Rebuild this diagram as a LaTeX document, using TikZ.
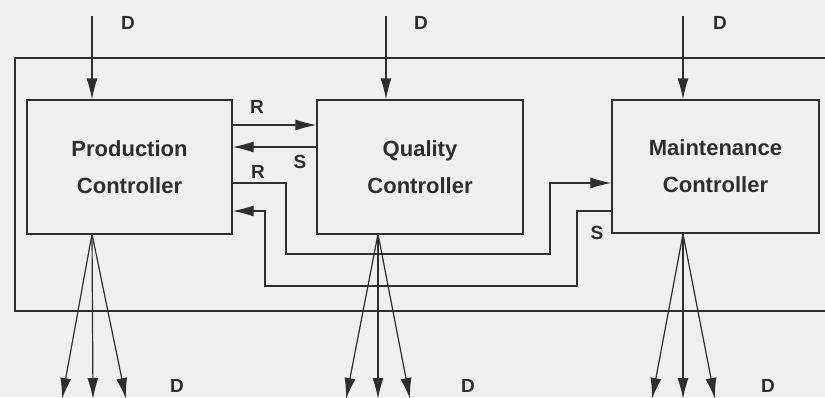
\documentclass[tikz,border=0pt]{standalone}
\usepackage{fontspec}
\setmainfont{Liberation Sans}
\usetikzlibrary{arrows.meta}
\definecolor{bg}{HTML}{EFEFEF}
\definecolor{ln}{HTML}{2E2E2E}
\begin{document}
\begin{tikzpicture}[x=1pt,y=-1pt,
  line width=1.2pt,
  ctrl/.style={draw=ln,line width=1.2pt,fill=bg,align=center,font=\fontsize{22}{37}\selectfont\bfseries,text=ln,inner sep=0pt},
  arr/.style={draw=ln,-{Latex[length=21pt,width=11pt]}},
  ln/.style={draw=ln},
  lbl/.style={font=\fontsize{19}{19}\selectfont\bfseries,text=ln,inner sep=0pt}]
\fill[bg] (0,0) rectangle (825,397);
\useasboundingbox (0,0) rectangle (825,397);
% outer frame
\draw[ln] (830,58) -- (15,58) -- (15,311) -- (830,311);
% controllers
\node[ctrl,minimum width=205pt,minimum height=134pt] (prod) at (129.5,167) {Production\\Controller};
\node[ctrl,minimum width=206pt,minimum height=134pt] (qual) at (420,167) {Quality\\Controller};
\node[ctrl,minimum width=207pt,minimum height=133pt] (main) at (715.5,166.5) {Maintenance\\Controller};
% top inputs
\coordinate (dp) at (92,16);
\coordinate (dq) at (386,16);
\coordinate (dm) at (683,16);
\draw[arr] (dp) -- (dp |- prod.north);
\draw[arr] (dq) -- (dq |- qual.north);
\draw[arr] (dm) -- (dm |- main.north);
\node[lbl] (ld1) at (128,23) {D};
\node[lbl] (ld2) at (421,23) {D};
\node[lbl] (ld3) at (720,23) {D};
% R and S between production and quality
\coordinate (y1) at (0,125);
\coordinate (y2) at (0,147);
\draw[arr] (prod.east |- y1) -- (qual.west |- y1);
\draw[arr] (qual.west |- y2) -- (prod.east |- y2);
\node[lbl] (lr1) at (257,107) {R};
\node[lbl] (ls1) at (300,162) {S};
% R from production to maintenance
\coordinate (y3) at (0,183);
\coordinate (r1) at (286,183);
\coordinate (r2) at (286,254);
\coordinate (r3) at (550,254);
\coordinate (r4) at (550,183);
\draw[arr] (prod.east |- y3) -- (r1) -- (r2) -- (r3) -- (r4) -- (main.west |- y3);
\node[lbl] (lr2) at (258,172) {R};
% S from maintenance to production
\coordinate (y4) at (0,211);
\coordinate (s1) at (577,211);
\coordinate (s2) at (577,286);
\coordinate (s3) at (265,286);
\coordinate (s4) at (265,211);
\draw[arr] (main.west |- y4) -- (s1) -- (s2) -- (s3) -- (s4) -- (prod.east |- y4);
\node[lbl] (ls2) at (597,233) {S};
% bottom outputs
\coordinate (pb) at (92,234);
\coordinate (qb) at (378,234);
\coordinate (mb) at (683,234);
\coordinate (pa) at (62,399);
\coordinate (pc) at (93,399);
\coordinate (pd) at (126,399);
\coordinate (qa) at (346,399);
\coordinate (qc) at (378,399);
\coordinate (qd) at (410,399);
\coordinate (ma) at (652,399);
\coordinate (mc) at (683,399);
\coordinate (md) at (715,399);
\draw[arr] (pb) -- (pa);
\draw[arr] (pb) -- (pc);
\draw[arr] (pb) -- (pd);
\draw[arr] (qb) -- (qa);
\draw[arr] (qb) -- (qc);
\draw[arr] (qb) -- (qd);
\draw[arr] (mb) -- (ma);
\draw[arr] (mb) -- (mc);
\draw[arr] (mb) -- (md);
\node[lbl] (ld4) at (177,386) {D};
\node[lbl] (ld5) at (468,386) {D};
\node[lbl] (ld6) at (768,386) {D};
\end{tikzpicture}
\end{document}
